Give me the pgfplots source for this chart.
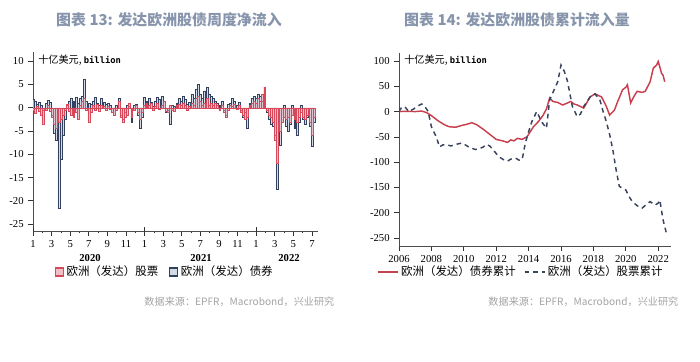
\documentclass[border=0pt]{standalone}
\usepackage{pgfplots}
\pgfplotsset{compat=1.18}
\usepackage{pgfplotstable}
\usepackage{fontspec}
\setmainfont{Liberation Serif}
\newfontfamily\cjk{Noto Sans CJK SC}
\newfontfamily\monof{DejaVu Sans Mono}
\definecolor{eqred}{HTML}{D6485A}
\definecolor{eqfill}{HTML}{F3BEC4}
\definecolor{bdnavy}{HTML}{34415E}
\definecolor{bdfill}{HTML}{C3CFE2}
\definecolor{linered}{HTML}{C8404F}
\definecolor{dashnavy}{HTML}{38445E}
\definecolor{titlecol}{HTML}{8795AC}
\definecolor{srccol}{HTML}{A3A3A3}

\pgfplotstableread{
x eq bd
0.00 -0.5 1.8
0.23 -1.2 1.5
0.46 0.3 0.8
0.69 -0.8 1.2
0.92 -1.5 0.5
1.15 -3.5 -0.5
1.38 -0.6 1.0
1.62 0.5 1.6
1.85 -0.8 1.2
2.08 -2.0 -1.5
2.31 -3.5 -5.5
2.54 -4.5 -7.0
2.77 -3.0 -21.5
3.00 -2.5 -11.0
3.23 -1.5 -6.0
3.46 -0.5 -2.5
3.69 0.8 0.5
3.92 -0.8 1.5
4.15 -1.5 2.0
4.38 -2.0 1.5
4.62 -1.0 2.2
4.85 -2.5 1.0
5.08 0.5 2.0
5.31 1.5 2.5
5.54 2.0 6.2
5.77 -0.5 1.5
6.00 -3.0 1.0
6.23 -1.0 0.8
6.46 0.5 1.5
6.69 -0.5 2.2
6.92 0.8 1.0
7.15 -0.8 0.5
7.38 0.5 2.0
7.62 0.3 1.2
7.85 -0.5 0.8
8.08 0.4 1.0
8.31 -0.3 0.6
8.54 -1.0 -1.0
8.77 -1.5 -1.5
9.00 -0.5 0.5
9.23 1.5 2.0
9.46 -2.0 -1.5
9.69 -3.0 -2.5
9.92 -2.0 -1.0
10.15 -1.5 0.5
10.38 1.0 0.3
10.62 -2.0 -3.2
10.85 -0.5 0.5
11.08 0.5 0.8
11.31 -1.0 -1.5
11.54 -2.5 -4.5
11.77 -1.0 -2.0
12.00 0.5 2.2
12.23 1.0 1.5
12.46 0.5 2.0
12.69 1.0 1.2
12.92 -0.5 0.3
13.15 0.3 1.5
13.38 1.0 2.2
13.62 -0.3 1.8
13.85 0.5 2.5
14.08 1.5 1.5
14.31 -0.8 -1.0
14.54 -1.0 -0.5
14.77 0.5 -3.5
15.00 -0.5 0.5
15.23 -0.8 0.3
15.46 0.5 1.0
15.69 0.8 2.0
15.92 0.5 1.5
16.15 1.0 2.5
16.38 0.5 1.8
16.62 -0.5 0.8
16.85 0.3 1.2
17.08 1.0 3.0
17.31 0.5 2.0
17.54 2.0 4.0
17.77 2.5 5.0
18.00 1.5 3.0
18.23 0.5 2.0
18.46 1.0 3.5
18.69 2.0 4.5
18.92 0.5 3.0
19.15 1.0 2.5
19.38 0.5 2.0
19.62 1.0 1.5
19.85 0.5 1.0
20.08 -0.5 0.5
20.31 0.5 1.5
20.54 -1.0 -0.5
20.77 -2.0 -1.5
21.00 -0.5 0.8
21.23 0.5 1.0
21.46 0.3 2.0
21.69 0.8 1.5
21.92 -0.3 0.5
22.15 0.5 1.2
22.38 -1.0 -0.5
22.62 -1.5 -2.0
22.85 -2.5 -1.0
23.08 -2.0 -4.5
23.31 0.5 1.0
23.54 1.0 2.0
23.77 1.5 2.5
24.00 1.0 2.0
24.23 2.0 3.0
24.46 1.5 2.5
24.69 3.0 1.5
24.92 4.5 2.0
25.15 -0.5 -1.0
25.38 -1.5 -2.5
25.62 -2.0 -3.5
25.85 -3.0 -4.0
26.08 -7.0 -6.0
26.31 -12.0 -17.5
26.54 -5.0 -8.0
26.77 -3.0 -3.0
27.00 -2.0 0.5
27.23 -2.5 -4.0
27.46 -2.0 -5.0
27.69 -3.0 -3.5
27.92 -1.5 0.5
28.15 -2.5 -4.5
28.38 -3.0 -6.0
28.62 -2.0 -3.0
28.85 -1.0 0.5
29.08 -2.0 -2.5
29.31 -2.5 -3.5
29.54 -1.5 -2.0
29.77 -3.0 -4.0
30.00 -6.0 -8.2
30.23 -2.0 -3.0
}\weekly

\begin{document}
\begin{tikzpicture}[x=0.75pt,y=0.75pt]
\path[use as bounding box] (0,0) rectangle (700,361);

% titles
\node[font=\cjk\bfseries\fontsize{11.2}{13}\selectfont, text=titlecol] at (169,341) {图表 13: 发达欧洲股债周度净流入};
\node[font=\cjk\bfseries\fontsize{11.2}{13}\selectfont, text=titlecol] at (517,341) {图表 14: 发达欧洲股债累计流入量};

% left chart
\begin{axis}[
  at={(24.75pt,97.5pt)}, anchor=south west,
  scale only axis, width=213.75pt, height=134.25pt,
  xmin=0, xmax=30.65, ymin=-26.5, ymax=12,
  axis x line*=bottom, axis y line*=left,
  x axis line style={-}, y axis line style={-},
  axis line style={black!70},
  ytick={-25,-20,...,10},
  xtick={0,2,...,30}, xticklabels={1,3,5,7,9,11,1,3,5,7,9,11,1,3,5,7},
  minor xtick={1,3,...,29},
  extra x ticks={0,12,24}, extra x tick labels={},
  extra x tick style={major tick length=6pt, tick align=center},
  tick align=outside, major tick length=3.5pt, minor tick length=1.8pt,
  tick style={black!80, line width=0.5pt},
  ticklabel style={font=\fontsize{8}{9}\selectfont},
  /pgf/number format/assume math mode=true,
  legend style={draw=none, fill=none, at={(0.463,-0.229)}, anchor=center,
     legend columns=2, font=\cjk\fontsize{8.6}{10}\selectfont,
     /tikz/every even column/.append style={column sep=6pt}},
  legend image code/.code={\draw[#1, line width=1pt] (0pt,-3pt) rectangle (6pt,3pt);},
]
\addplot[ybar, bar shift=0pt, bar width=0.21, draw=eqred, fill=eqfill, line width=0.35pt] table[x=x,y=eq] {\weekly};
\addlegendentry{欧洲（发达）股票}
\addplot[ybar, bar shift=0pt, bar width=0.21, draw=bdnavy, fill=bdfill, fill opacity=0.75, line width=0.35pt] table[x=x,y=bd] {\weekly};
\addlegendentry{欧洲（发达）债券}
\addplot[ybar, bar shift=0pt, bar width=0.21, draw=eqred, fill=eqfill, fill opacity=0.45, line width=0.35pt, forget plot] table[x=x,y=eq] {\weekly};
\end{axis}

\node[anchor=west, inner sep=0pt] at (38,301) {\cjk\fontsize{7.6}{9}\selectfont 十亿美元,\ \monof\bfseries\fontsize{6.6}{8}\selectfont billion};
\node[font=\fontsize{8}{9}\selectfont\bfseries] at (90,103) {2020};
\node[font=\fontsize{8}{9}\selectfont\bfseries] at (201,103) {2021};
\node[font=\fontsize{8}{9}\selectfont\bfseries] at (289,103) {2022};
\node[anchor=east, font=\cjk\fontsize{7.6}{9}\selectfont, text=srccol] at (339,59) {数据来源：EPFR，Macrobond，兴业研究};

% right chart
\begin{axis}[
  at={(299.25pt,86.25pt)}, anchor=south west,
  scale only axis, width=204pt, height=144.75pt,
  xmin=2006, xmax=2022.79, ymin=-265.8, ymax=115.8,
  axis x line*=bottom, axis y line*=left,
  x axis line style={-}, y axis line style={-},
  axis line style={black!70},
  xtick={2006,2008,...,2022}, ytick={-250,-200,...,100},
  tick align=outside, major tick length=3.5pt,
  tick style={black!80, line width=0.5pt},
  ticklabel style={font=\fontsize{8}{9}\selectfont},
  x tick label style={/pgf/number format/1000 sep={}},
  /pgf/number format/assume math mode=true,
  legend style={draw=none, fill=none, at={(0.449,-0.135)}, anchor=center,
     legend columns=2, font=\cjk\fontsize{8.6}{10}\selectfont,
     /tikz/every even column/.append style={column sep=4pt}},
  legend image code/.code={\draw[#1] (0pt,0pt) -- (15pt,0pt);},
]
\addplot[linered, line width=1.1pt] coordinates {
(2006.0,0) (2006.5,0.5) (2007.0,0) (2007.4,1) (2007.7,-2) (2008.0,-8) (2008.4,-18) (2008.8,-26) (2009.1,-30) (2009.5,-31) (2009.8,-28) (2010.2,-25) (2010.5,-22) (2010.8,-26) (2011.2,-35) (2011.6,-45) (2012.0,-55) (2012.4,-58) (2012.7,-61) (2012.9,-56) (2013.1,-58) (2013.3,-53) (2013.6,-55) (2013.9,-50) (2014.1,-40) (2014.3,-30) (2014.6,-20) (2014.9,-7) (2015.1,5) (2015.3,27) (2015.5,20) (2015.8,18) (2016.1,13) (2016.4,17) (2016.6,20) (2016.8,15) (2017.0,13) (2017.2,10) (2017.4,7) (2017.6,18) (2017.8,29) (2018.1,35) (2018.3,32) (2018.5,29) (2018.8,10) (2019.0,-7) (2019.3,3) (2019.5,20) (2019.8,43) (2020.0,48) (2020.1,53) (2020.3,17) (2020.5,30) (2020.7,40) (2021.0,38) (2021.2,40) (2021.5,59) (2021.7,86) (2021.9,92) (2022.0,99) (2022.1,88) (2022.2,76) (2022.3,72) (2022.4,59)
};
\addlegendentry{欧洲（发达）债券累计}
\addplot[dashnavy, line width=1.1pt, dash pattern=on 3.5pt off 3pt] coordinates {
(2006.0,0) (2006.2,10) (2006.4,8) (2006.6,0) (2006.9,5) (2007.1,10) (2007.4,15) (2007.6,10) (2007.8,0) (2008.0,-30) (2008.3,-50) (2008.5,-70) (2008.7,-66) (2008.9,-65) (2009.2,-68) (2009.5,-65) (2009.9,-62) (2010.3,-70) (2010.7,-75) (2011.0,-73) (2011.2,-70) (2011.4,-65) (2011.6,-68) (2011.8,-75) (2012.0,-83) (2012.2,-90) (2012.5,-96) (2012.7,-98) (2012.9,-94) (2013.2,-92) (2013.4,-96) (2013.6,-95) (2013.8,-62) (2014.0,-40) (2014.2,-20) (2014.5,0) (2014.8,-20) (2015.1,-33) (2015.3,23) (2015.6,45) (2015.8,59) (2016.0,92) (2016.2,80) (2016.4,60) (2016.7,10) (2017.0,-10) (2017.2,-5) (2017.4,10) (2017.8,29) (2018.1,35) (2018.4,23) (2018.6,0) (2018.8,-20) (2019.0,-45) (2019.2,-76) (2019.4,-115) (2019.6,-148) (2020.0,-155) (2020.2,-168) (2020.4,-178) (2020.7,-186) (2021.0,-191) (2021.3,-183) (2021.5,-178) (2021.8,-185) (2022.0,-181) (2022.1,-175) (2022.3,-214) (2022.5,-240)
};
\addlegendentry{欧洲（发达）股票累计}
\end{axis}

\node[anchor=west, inner sep=0pt] at (404,301) {\cjk\fontsize{7.6}{9}\selectfont 十亿美元,\ \monof\bfseries\fontsize{6.6}{8}\selectfont billion};
\node[anchor=east, font=\cjk\fontsize{7.6}{9}\selectfont, text=srccol] at (683,59) {数据来源：EPFR，Macrobond，兴业研究};
\end{tikzpicture}
\end{document}
